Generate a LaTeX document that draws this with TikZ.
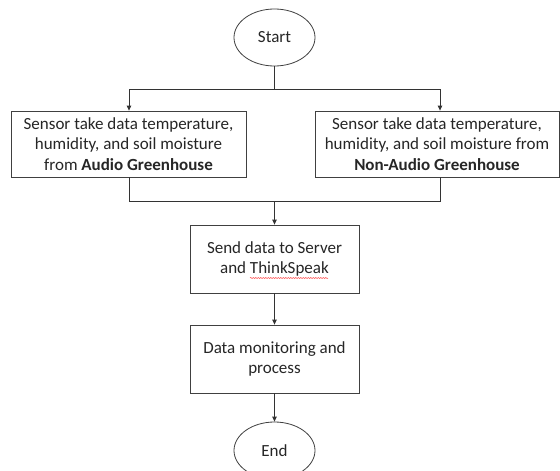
\documentclass[tikz,border=0pt]{standalone}
\usepackage{fontspec}
\setmainfont{Carlito}
\usetikzlibrary{arrows.meta,shapes.geometric,calc,decorations.pathmorphing}
\begin{document}
\begin{tikzpicture}[x=1pt,y=-1pt,
  every node/.style={font=\fontsize{17}{20.8}\selectfont, text=black!85, inner sep=0pt, align=center},
  procbox/.style={draw=black!75, line width=0.8pt, rectangle, fill=white},
  termin/.style={draw=black!75, line width=0.8pt, ellipse, fill=white},
  conn/.style={draw=black!80, line width=0.8pt},
  arr/.style={conn, -{Triangle[length=5pt,width=4.5pt]}}
]
\useasboundingbox (0,0) rectangle (560,471);
\clip (0,0) rectangle (560,471);
\fill[white] (0,0) rectangle (560,471);

\node[termin, minimum width=81pt, minimum height=57pt] (start) at (274.5,37.5) {Start};
\node[procbox, minimum width=235pt, minimum height=66pt] (left) at (128.5,144)
  {Sensor take data temperature,\\humidity, and soil moisture\\from \textbf{Audio Greenhouse}};
\node[procbox, minimum width=244pt, minimum height=66pt] (right) at (437,144)
  {Sensor take data temperature,\\humidity, and soil moisture from\\\textbf{Non-Audio Greenhouse}};
\node[procbox, minimum width=169pt, minimum height=68pt] (send) at (274.5,259)
  {Send data to Server\\and ThinkSpeak};
\node[procbox, minimum width=169pt, minimum height=68pt] (proc) at (274.5,359)
  {Data monitoring and\\process};
\node[termin, minimum width=81pt, minimum height=57pt] (end) at (274.5,450.5) {End};

\coordinate (split) at (274.5,89);
\coordinate (splitL) at (129,89);
\coordinate (splitR) at (440,89);
\coordinate (joinL) at (129,201);
\coordinate (joinR) at (440,201);
\coordinate (join) at (274.5,201);

\draw[conn] (start.south) -- (split);
\draw[conn] (splitL) -- (splitR);
\draw[arr] (splitL) -- (splitL |- left.north);
\draw[arr] (splitR) -- (splitR |- right.north);
\draw[conn] (joinL |- left.south) -- (joinL) -- (joinR) -- (joinR |- right.south);
\draw[arr] (join) -- (send.north);
\draw[arr] (send.south) -- (proc.north);
\draw[arr] (proc.south) -- (end.north);

% spell-check underline under ThinkSpeak
\coordinate (ulA) at ($(send.center)+(-24.5,19)$);
\coordinate (ulB) at ($(send.center)+(53.5,19)$);
\draw[red!70, line width=0.5pt, decorate, decoration={snake, amplitude=0.6pt, segment length=2.5pt}] (ulA) -- (ulB);
\end{tikzpicture}
\end{document}
